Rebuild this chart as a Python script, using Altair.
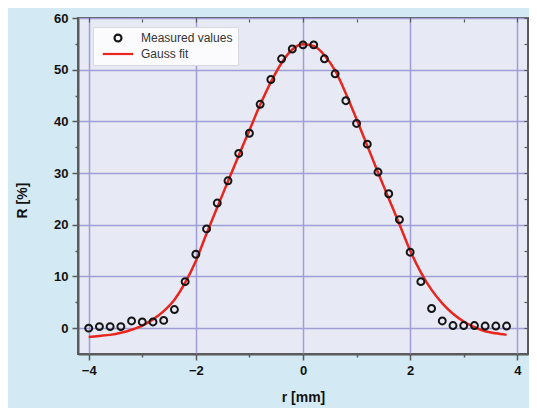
import altair as alt
import pandas as pd

series_names = ["Measured values", "Gauss fit"]

r_measured = [-4.0, -3.8, -3.6, -3.4, -3.2, -3.0, -2.8, -2.6, -2.4, -2.2,
              -2.0, -1.8, -1.6, -1.4, -1.2, -1.0, -0.8, -0.6, -0.4, -0.2,
              0.0, 0.2, 0.4, 0.6, 0.8, 1.0, 1.2, 1.4, 1.6, 1.8,
              2.0, 2.2, 2.4, 2.6, 2.8, 3.0, 3.2, 3.4, 3.6, 3.8]
R_measured = [0.0, 0.3, 0.3, 0.3, 1.4, 1.2, 1.2, 1.5, 3.6, 9.0,
              14.3, 19.2, 24.2, 28.5, 33.8, 37.7, 43.3, 48.1, 52.1, 54.0,
              54.8, 54.8, 52.1, 49.2, 44.0, 39.6, 35.6, 30.2, 26.0, 21.0,
              14.7, 9.0, 3.8, 1.4, 0.5, 0.5, 0.5, 0.4, 0.4, 0.4]

r_fit = [-4.0, -3.8, -3.6, -3.4, -3.2, -3.0, -2.8, -2.6, -2.4, -2.2,
         -2.0, -1.8, -1.6, -1.4, -1.2, -1.0, -0.8, -0.6, -0.4, -0.2,
         0.0, 0.2, 0.4, 0.6, 0.8, 1.0, 1.2, 1.4, 1.6, 1.8,
         2.0, 2.2, 2.4, 2.6, 2.8, 3.0, 3.2, 3.4, 3.6, 3.8]
R_fit = [-1.7, -1.5, -1.3, -0.9, -0.3, 0.5, 1.7, 3.3, 5.5, 8.8,
         13.0, 18.3, 23.4, 28.4, 33.4, 38.3, 43.2, 47.6, 51.3, 53.9,
         54.9, 54.6, 52.8, 49.8, 45.4, 40.4, 35.3, 30.1, 25.1, 20.1,
         15.0, 10.8, 7.4, 4.8, 2.8, 1.3, 0.2, -0.6, -1.0, -1.3]

x_ticks = [-4, -3, -2, -1, 0, 1, 2, 3, 4]
y_ticks = [0, 5, 10, 15, 20, 25, 30, 35, 40, 45, 50, 55, 60]

meas = pd.DataFrame({"r": r_measured, "R": R_measured, "series": series_names[0]})
fit = pd.DataFrame({"r": r_fit, "R": R_fit, "series": series_names[1]})

x_scale = alt.Scale(domain=[-4.2, 4.2], nice=False, zero=False)
y_scale = alt.Scale(domain=[-5, 60], nice=False, zero=False)
color_scale = alt.Scale(domain=series_names, range=["#151515", "#e8261e"])
# legend glyphs: open circle for the measurements, a long horizontal stroke for the fit
shape_scale = alt.Scale(domain=series_names, range=["circle", "M-4.4,0H4.4"])

FONT = "Liberation Sans"
AXIS_COLOR = "#5a5a5a"
GRID_COLOR = "#a09ed6"

x_major = "datum.value % 2 === 0"
y_major = "datum.value % 10 === 0"

common_axis = dict(
    grid=True,
    gridColor=GRID_COLOR,
    gridWidth=1.5,
    tickColor=AXIS_COLOR,
    tickWidth=1.5,
    domainColor=AXIS_COLOR,
    domainWidth=2,
    labelFont=FONT,
    labelFontSize=13,
    labelFontWeight="bold",
    labelColor="#111111",
    labelPadding=4,
    titleFont=FONT,
    titleFontSize=14,
    titleFontWeight="bold",
    titleColor="#111111",
)

x_axis = alt.Axis(
    values=x_ticks,
    labelExpr="datum.value % 2 === 0 ? datum.label : ''",
    gridOpacity={"condition": {"test": x_major, "value": 1}, "value": 0},
    tickSize={"condition": {"test": x_major, "value": 6}, "value": 3},
    titlePadding=13,
    **common_axis,
)
y_axis = alt.Axis(
    values=y_ticks,
    labelExpr="datum.value % 10 === 0 ? datum.label : ''",
    gridOpacity={"condition": {"test": y_major, "value": 1}, "value": 0},
    tickSize={"condition": {"test": y_major, "value": 6}, "value": 3},
    titlePadding=24,
    titleY=182,
    **common_axis,
)

top_axis = alt.Axis(
    orient="top", values=x_ticks, labels=False, domain=False, grid=False,
    tickSize={"condition": {"test": x_major, "value": 5}, "value": 3},
    tickColor=AXIS_COLOR, tickWidth=1.2, offset=-4, title=None,
)
right_axis = alt.Axis(
    orient="right", values=y_ticks, labels=False, domain=False, grid=False,
    tickSize={"condition": {"test": y_major, "value": 5}, "value": 3},
    tickColor=AXIS_COLOR, tickWidth=1.2, offset=-4, title=None,
)

legend = alt.Legend(
    orient="none",
    legendX=15,
    legendY=9,
    fillColor="#fbfbfd",
    strokeColor="#d8d8e0",
    padding=5,
    symbolOffset=14,
    symbolSize=48,
    symbolStrokeWidth=2.2,
    labelFont=FONT,
    labelFontSize=12,
    labelColor="#333333",
    rowPadding=2,
    labelOffset=17,
)

line = alt.Chart(fit).mark_line(strokeWidth=2.5, interpolate="monotone").encode(
    x=alt.X("r:Q", scale=x_scale, axis=None),
    y=alt.Y("R:Q", scale=y_scale, axis=None),
    color=alt.Color("series:N", scale=color_scale, title=None, legend=legend),
)

points = alt.Chart(meas).mark_point(filled=False, strokeWidth=2, opacity=1, size=48).encode(
    x=alt.X("r:Q", scale=x_scale, axis=x_axis, title="r [mm]"),
    y=alt.Y("R:Q", scale=y_scale, axis=y_axis, title="R [%]"),
    color=alt.Color("series:N", scale=color_scale, title=None, legend=legend),
    shape=alt.Shape("series:N", scale=shape_scale, title=None, legend=legend),
)

frame_ticks = alt.Chart(meas).mark_point(opacity=0).encode(
    x=alt.X("r:Q", scale=x_scale, axis=top_axis),
    y=alt.Y("R:Q", scale=y_scale, axis=right_axis),
)

chart = (
    alt.layer(line, points, frame_ticks)
    .resolve_axis(x="independent", y="independent")
    .properties(
        width=450,
        height=336,
        autosize=alt.AutoSizeParams(type="none"),
        padding={"left": 70, "top": 10, "right": 1, "bottom": 54},
        background="#d3e9f4",
    )
    .configure_view(fill="#e7eaf5", stroke=AXIS_COLOR, strokeWidth=2)
)

chart.save("out.html", embed_options={"renderer": "svg", "actions": False})
